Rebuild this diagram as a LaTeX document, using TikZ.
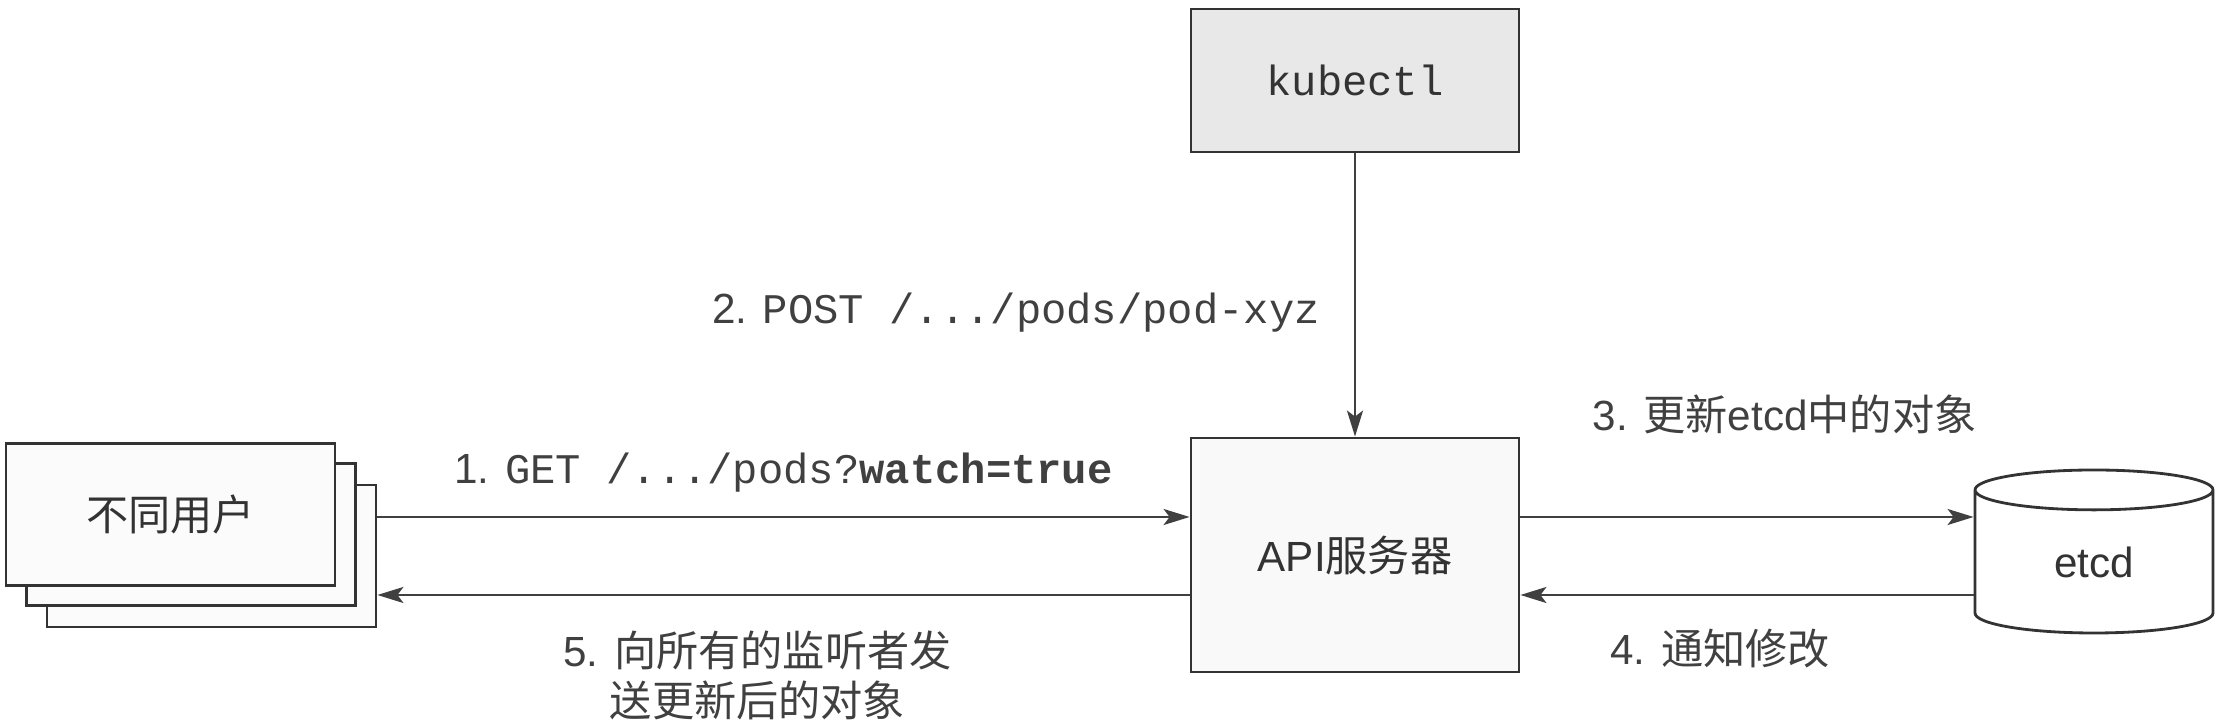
\documentclass[tikz,border=0pt]{standalone}
\usepackage{fontspec}
\setmainfont{Liberation Sans}
\setmonofont{Liberation Mono}
\newfontfamily\cjk{Noto Sans CJK SC}
\usetikzlibrary{arrows.meta,shapes.geometric}

\begin{document}
\begin{tikzpicture}[
    font=\fontsize{12}{14.2}\selectfont, text=black!80,
    box/.style={draw=black!80, line width=0.8pt, fill=gray!5, minimum width=3.28cm, inner sep=0pt},
    db/.style={cylinder, shape border rotate=90, aspect=0.5, draw=black!80, line width=0.8pt, fill=white, minimum width=2.38cm, minimum height=1.63cm, inner sep=0pt},
    arr/.style={draw=black!75, line width=0.7pt, -{Stealth[length=2.6mm,width=1.6mm,inset=0.6mm]}},
    lbl/.style={inner sep=0pt, text=black!75}
  ]
  \useasboundingbox (0,0) rectangle (22.22,7.22);

  % Disegna il rettangolo grigio per "kubectl"
  \node[box, fill=gray!18, minimum height=1.43cm] (kubectl) at (13.55,6.415) {\texttt{kubectl}};

  % Disegna il rettangolo per il server API
  \node[box, minimum height=2.34cm] (api) at (13.55,1.67) {API{\cjk 服务器}};

  % Disegna i tre rettangoli sovrapposti per gli utenti
  \node[box, fill=gray!3, minimum width=3.29cm, minimum height=1.42cm] (users3) at (2.115,1.66) {};
  \node[box, fill=gray!3, minimum width=3.29cm, minimum height=1.42cm] (users2) at (1.91,1.875) {};
  \node[box, fill=gray!3, minimum width=3.29cm, minimum height=1.42cm] (users1) at (1.705,2.075) {\cjk 不同用户};

  % Disegna il cilindro per "etcd"
  \node[db, anchor=shape center] (etcd) at (20.94,1.705) {etcd};

  % Punti di partenza delle frecce
  \coordinate (apiIn) at ([yshift=3.8mm]api.west);
  \coordinate (apiOut) at ([yshift=-4mm]api.west);
  \coordinate (apiTo) at ([yshift=3.8mm]api.east);
  \coordinate (apiFrom) at ([yshift=-4mm]api.east);

  % 1. GET dagli utenti
  \draw[arr] (users3.east |- apiIn) -- (apiIn)
    node[lbl, midway, above=2.4mm] {1. \texttt{GET /.../pods?\textbf{watch=true}}};

  % 2. POST da kubectl
  \draw[arr] (kubectl) -- (api)
    node[lbl, pos=0.561, left=3.4mm] {2. \texttt{POST /.../pods/pod-xyz}};

  % 3. aggiornamento in etcd
  \draw[arr] (apiTo) -- (apiTo -| etcd.west)
    node[lbl, pos=0.583, above=8.2mm] {3. {\cjk 更新}etcd{\cjk 中的对象}};

  % 4. notifica da etcd
  \draw[arr] (apiFrom -| etcd.west) -- (apiFrom)
    node[lbl, pos=0.559, below=3.3mm] {4. {\cjk 通知修改}};

  % 5. risposta agli utenti
  \draw[arr] (apiOut) -- (users3.east |- apiOut)
    node[lbl, pos=0.532, below=3.5mm, align=center] {5. {\cjk 向所有的监听者发}\\{\cjk 送更新后的对象}};
\end{tikzpicture}
\end{document}
